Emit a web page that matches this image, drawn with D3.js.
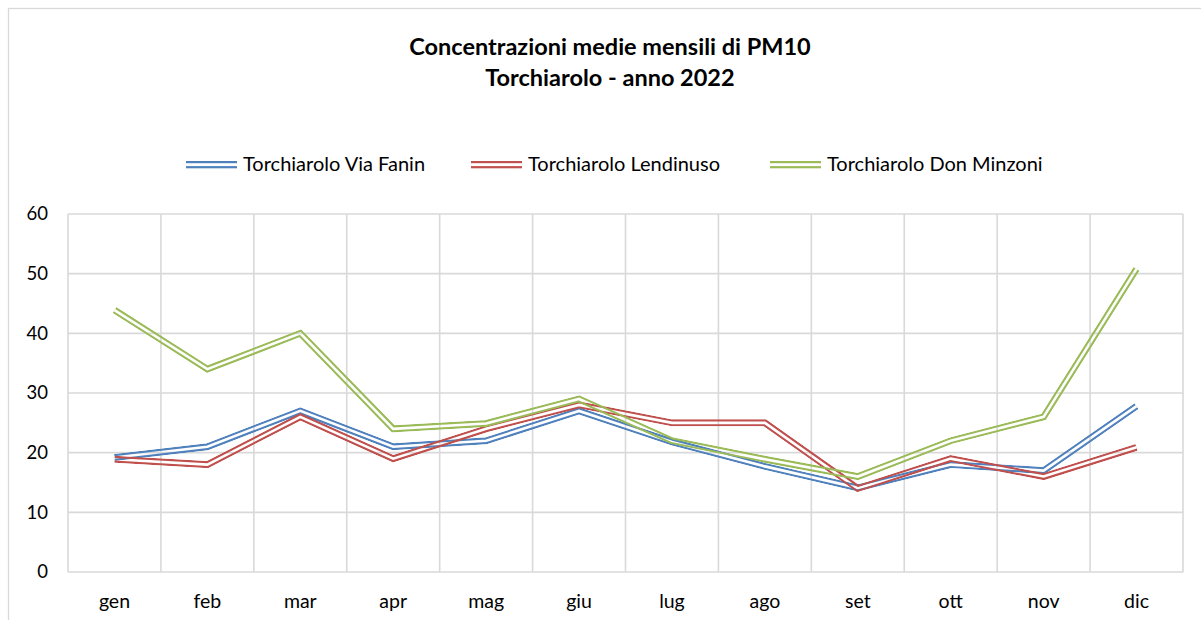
<!DOCTYPE html>
<html lang="it">
  <head>
    <meta charset="utf-8">
    <script src="https://cdn.jsdelivr.net/npm/d3@7"></script>
    <title>Concentrazioni medie mensili di PM10</title>
    <style>
      body { margin: 0; background: #fff; }
      text { font-family: Lato, "Open Sans", sans-serif; fill: #000; }
    </style>
  </head>
  <body>
    <script>

    var months = ["gen", "feb", "mar", "apr", "mag", "giu", "lug", "ago", "set", "ott", "nov", "dic"];
    var seriesNames = ["Torchiarolo Via Fanin", "Torchiarolo Lendinuso", "Torchiarolo Don Minzoni"];
    var viaFanin   = [19.2, 21.0, 27.0, 21.0, 22.0, 27.0, 21.8, 17.7, 14.1, 18.0, 17.0, 27.8];
    var lendinuso  = [18.9, 18.0, 26.0, 19.0, 24.0, 28.0, 25.0, 25.0, 14.0, 19.0, 16.0, 20.9];
    var donMinzoni = [43.9, 34.0, 40.0, 24.0, 24.9, 29.0, 22.0, 18.9, 16.0, 22.0, 26.0, 50.8];
    var yTicks = [0, 10, 20, 30, 40, 50, 60];
    var colors = ["#4F81BD", "#C0504D", "#9BBB59"];

    var series = [viaFanin, lendinuso, donMinzoni];

    var W = 1201, H = 620;
    var margin = {top: 214, left: 68, right: 18, bottom: 48};
    var width = W - margin.left - margin.right,
        height = H - margin.top - margin.bottom;

    var x = d3.scaleBand().domain(months).range([0, width]);
    var y = d3.scaleLinear().domain([0, 60]).range([height, 0]);

    var svg = d3.select("body").append("svg")
        .attr("width", W)
        .attr("height", H);

    // chart border
    svg.append("rect")
        .attr("x", 8.5).attr("y", 8.5)
        .attr("width", W + 20).attr("height", H + 20)
        .attr("fill", "none")
        .attr("stroke", "#d9d9d9")
        .attr("stroke-width", 1.3);

    // title
    var title = svg.append("text")
        .attr("text-anchor", "middle")
        .style("font-weight", "bold")
        .style("font-size", "23.5px");
    title.append("tspan").attr("x", 610).attr("y", 55).text("Concentrazioni medie mensili di PM10");
    title.append("tspan").attr("x", 610).attr("y", 86).text("Torchiarolo - anno 2022");

    var defs = svg.append("defs");

    var g = svg.append("g")
        .attr("transform", "translate(" + [margin.left, margin.top] + ")");

    // horizontal gridlines
    g.selectAll(".hgrid")
        .data(yTicks)
        .enter().append("line")
        .attr("x1", 0).attr("x2", width)
        .attr("y1", function(d) { return y(d); })
        .attr("y2", function(d) { return y(d); })
        .attr("stroke", "#d9d9d9")
        .attr("stroke-width", 1.6);

    // vertical gridlines (category boundaries)
    var bounds = d3.range(months.length + 1);
    g.selectAll(".vgrid")
        .data(bounds)
        .enter().append("line")
        .attr("x1", function(i) { return i * x.bandwidth(); })
        .attr("x2", function(i) { return i * x.bandwidth(); })
        .attr("y1", 0).attr("y2", height)
        .attr("stroke", "#d9d9d9")
        .attr("stroke-width", 1.6);

    // y axis labels
    var yAxis = d3.axisLeft(y).tickValues(yTicks).tickSize(0).tickPadding(20);
    g.append("g").call(yAxis)
        .call(function(a) { a.select(".domain").remove(); })
        .selectAll("text")
        .style("font-size", "18.5px")
        .attr("font-family", null);

    // x axis labels
    var xAxis = d3.axisBottom(x).tickSize(0).tickPadding(22);
    g.append("g")
        .attr("transform", "translate(0," + height + ")")
        .call(xAxis)
        .call(function(a) { a.select(".domain").remove(); })
        .selectAll("text")
        .style("font-size", "19.5px")
        .attr("font-family", null);

    var line = d3.line()
        .x(function(d, i) { return x(months[i]) + x.bandwidth() / 2; })
        .y(function(d) { return y(d); });

    var outerW = 7, gapW = 2.6;

    // double (compound) lines with transparent gap, via masks
    series.forEach(function(data, k) {
      var m = defs.append("mask")
          .attr("id", "m" + k)
          .attr("maskUnits", "userSpaceOnUse")
          .attr("x", -100).attr("y", -300)
          .attr("width", W + 200).attr("height", H + 400);
      m.append("path").attr("d", line(data))
          .attr("fill", "none").attr("stroke", "#fff")
          .attr("stroke-width", outerW).attr("stroke-linejoin", "miter");
      m.append("path").attr("d", line(data))
          .attr("fill", "none").attr("stroke", "#000")
          .attr("stroke-width", gapW).attr("stroke-linejoin", "miter");

      g.append("path")
          .attr("d", line(data))
          .attr("fill", "none")
          .attr("stroke", colors[k])
          .attr("stroke-width", outerW)
          .attr("stroke-linejoin", "miter")
          .attr("mask", "url(#m" + k + ")");
    });

    // legend
    var legendX = [186, 471, 770];
    var legend = svg.append("g").attr("transform", "translate(0,164.5)");
    seriesNames.forEach(function(name, k) {
      var lg = legend.append("g").attr("transform", "translate(" + legendX[k] + ",0)");
      lg.append("rect").attr("x", 0).attr("y", -3.5).attr("width", 51).attr("height", 2.2).attr("fill", colors[k]);
      lg.append("rect").attr("x", 0).attr("y", 1.6).attr("width", 51).attr("height", 2.2).attr("fill", colors[k]);
      lg.append("text").attr("x", 57).attr("y", 6).style("font-size", "20px").text(name);
    });

    </script>
  </body>
</html>
